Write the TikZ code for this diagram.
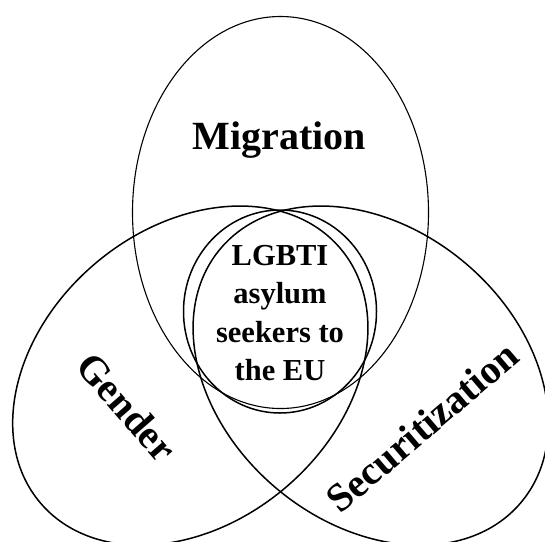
\documentclass[tikz,border=0pt]{standalone}
\usepackage{fontspec}
\setmainfont{Liberation Serif}
\usetikzlibrary{shapes.geometric}
\begin{document}
\begin{tikzpicture}[x=1pt,y=-1pt,
  setshape/.style={draw=black, ellipse, inner sep=0pt, fill=none},
  thinline/.style={line width=1.1pt},
  thickline/.style={line width=1.5pt},
  biglabel/.style={font=\fontsize{40}{40}\selectfont\bfseries, inner sep=0pt},
  midlabel/.style={font=\fontsize{30.5}{38.3}\selectfont\bfseries, align=center, inner sep=0pt}]
\useasboundingbox (0,0) rectangle (545,541);
\node[setshape, thinline, minimum width=296pt, minimum height=392pt] (migr) at (280.5,212.5) {};
\node[setshape, thickline, minimum width=393.4pt, minimum height=294pt, rotate=40.3] (gend) at (190.3,375.6) {};
\node[setshape, thickline, minimum width=393.4pt, minimum height=294pt, rotate=-40.3] (secu) at (370.7,375.6) {};
\node[setshape, thickline, minimum width=193pt, minimum height=203pt] (core) at (280,311.5) {};
\node[biglabel, anchor=base] (tmigr) at (279.5,149) {Migration};
\node[biglabel, rotate=-49] (tgend) at (127,407) {Gender};
\node[biglabel, rotate=40.5] (tsecu) at (422,427) {Securitization};
\node[midlabel] (tcore) at (280,313) {LGBTI\\asylum\\seekers to\\the EU};
\end{tikzpicture}
\end{document}
